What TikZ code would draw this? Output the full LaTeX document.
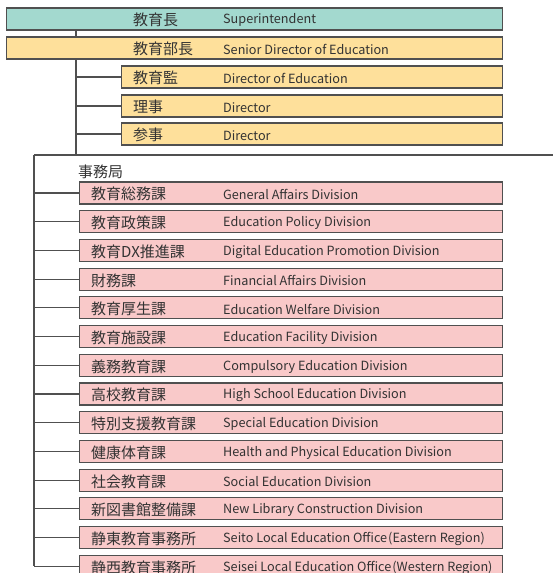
\documentclass[tikz,border=0pt]{standalone}
\usepackage{fontspec}
\setmainfont{Noto Sans CJK JP}
\newfontfamily\jpfont{Noto Sans CJK JP}
\definecolor{tealfill}{HTML}{A3D9CF}
\definecolor{yelfill}{HTML}{FEE09B}
\definecolor{pinkfill}{HTML}{F9C9C9}
\definecolor{edge}{HTML}{505050}
\definecolor{txt}{HTML}{333333}
\begin{document}
\begin{tikzpicture}[x=1pt,y=-1pt,
  box/.style={draw=edge,line width=1.1pt,minimum height=22pt,inner sep=0pt,anchor=west},
  jp/.style={anchor=west,inner sep=0pt,yshift=-1.2pt,text=txt,font=\jpfont\fontsize{15pt}{16pt}\selectfont},
  en/.style={anchor=west,inner sep=0pt,yshift=-1.4pt,text=txt,font=\jpfont\fontsize{12.65pt}{14pt}\selectfont},
  conn/.style={draw=edge,line width=1.1pt}]
\useasboundingbox (0,0) rectangle (553,573);
% top level
\node[box,fill=tealfill,minimum width=496pt] (sup) at (6,19) {};
\node[jp] (supj) at (133,19) {教育長};
\node[en] (supe) at (223,19) {Superintendent};
\node[box,fill=yelfill,minimum width=496pt] (sdir) at (6,48) {};
\node[jp] (sdirj) at (133,48) {教育部長};
\node[en] (sdire) at (223,48) {Senior Director of Education};
\node[box,fill=yelfill,minimum width=381pt] (kan) at (121,77) {};
\node[jp] (kanj) at (133,77) {教育監};
\node[en] (kane) at (223,77) {Director of Education};
\node[box,fill=yelfill,minimum width=381pt] (riji) at (121,106) {};
\node[jp] (rijij) at (133,106) {理事};
\node[en] (rijie) at (223,106) {Director};
\node[box,fill=yelfill,minimum width=381pt] (sanji) at (121,134) {};
\node[jp] (sanjij) at (133,134) {参事};
\node[en] (sanjie) at (223,134) {Director};
% connectors top
\coordinate (t) at (76,0);
\coordinate (hl) at (34,155);
\coordinate (hr) at (553,155);
\draw[conn] (sup.south -| t) -- (sdir.north -| t);
\draw[conn] (sdir.south -| t) -- (t |- hl);
\foreach \n in {kan,riji,sanji}{\draw[conn] (t |- \n.west) -- (\n.west);}
\draw[conn] (hr) -- (hl);
% secretariat
\node[jp] (jimu) at (78,171) {事務局};
\foreach \i/\j/\e in {0/教育総務課/General Affairs Division,
  1/教育政策課/Education Policy Division,
  2/教育DX推進課/Digital Education Promotion Division,
  3/財務課/Financial Affairs Division,
  4/教育厚生課/Education Welfare Division,
  5/教育施設課/Education Facility Division,
  6/義務教育課/Compulsory Education Division,
  7/高校教育課/High School Education Division,
  8/特別支援教育課/Special Education Division,
  9/健康体育課/Health and Physical Education Division,
  10/社会教育課/Social Education Division,
  11/新図書館整備課/New Library Construction Division,
  12/静東教育事務所/Seito Local Education Office{\kern1pt}(Eastern Region),
  13/静西教育事務所/Seisei Local Education Office{\kern1pt}(Western Region)}{
  \pgfmathsetmacro{\yy}{193+28.72*\i}
  \node[box,fill=pinkfill,minimum width=423pt] (b\i) at (79,\yy) {};
  \node[jp] (b\i j) at (91,\yy) {\j};
  \node[en] (b\i e) at (223,\yy) {\e};
  \draw[conn] (hl |- b\i.west) -- (b\i.west);
}
\draw[conn] (hl) -- (hl |- b13.west);
\end{tikzpicture}
\end{document}
